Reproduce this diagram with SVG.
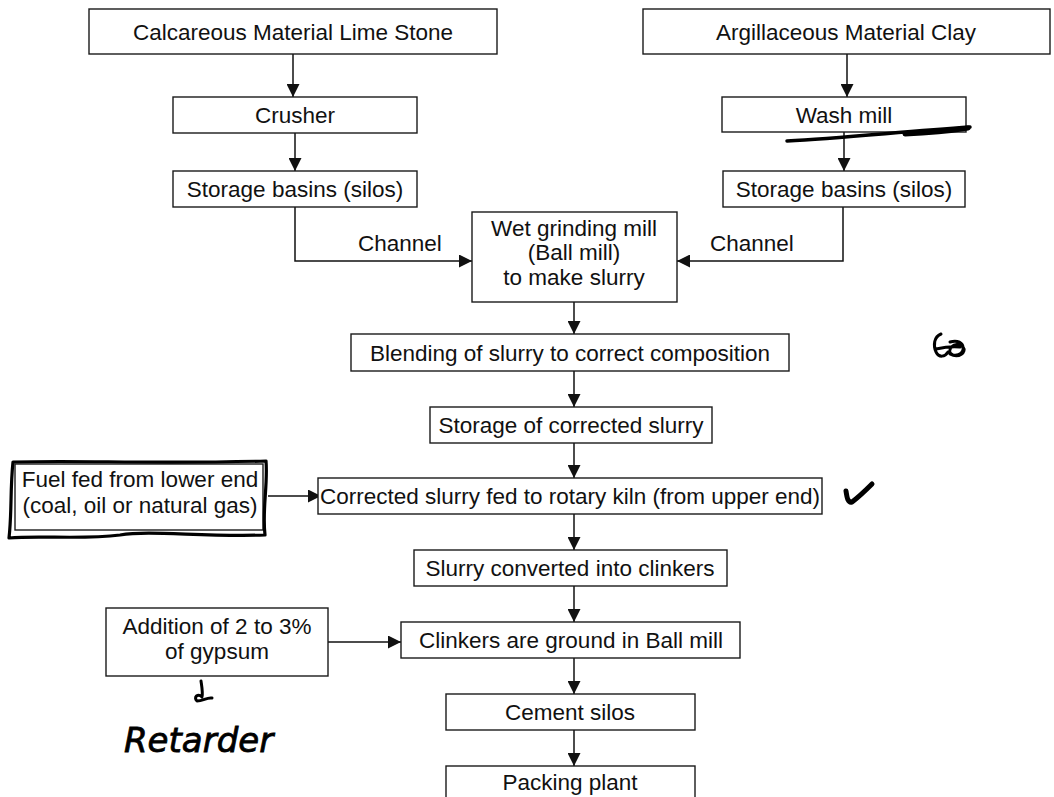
<svg xmlns="http://www.w3.org/2000/svg" width="1054" height="797" viewBox="0 0 1054 797">
<style>
.box{fill:#fff;stroke:#1a1a1a;stroke-width:1.4}
.t{font-family:"Liberation Sans",Arial,sans-serif;font-size:22.5px;fill:#111;text-anchor:middle}
.ts{font-family:"Liberation Sans",Arial,sans-serif;font-size:22.5px;fill:#111}
.c{fill:none;stroke:#111;stroke-width:1.5}
.ink{fill:none;stroke:#000;stroke-linecap:round;stroke-linejoin:round}
</style>
<defs>
<marker id="ah" markerUnits="userSpaceOnUse" markerWidth="13" markerHeight="13" viewBox="0 0 12 12" refX="12" refY="6" orient="auto">
<path d="M0,0 L12,6 L0,12 Z" fill="#111"/>
</marker>
</defs>
<rect width="1054" height="797" fill="#fff"/>

<g id="connectors">
<path class="c" d="M293,54 V97" marker-end="url(#ah)"/>
<path class="c" d="M295,133 V171" marker-end="url(#ah)"/>
<path class="c" d="M847,54 V97" marker-end="url(#ah)"/>
<path class="c" d="M844,132 V171" marker-end="url(#ah)"/>
<path class="c" d="M295,207 V261 H472" marker-end="url(#ah)"/>
<text class="ts" x="358" y="251">Channel</text>
<path class="c" d="M843,207 V261 H677" marker-end="url(#ah)"/>
<text class="ts" x="710" y="251">Channel</text>
<path class="c" d="M574,302 V334" marker-end="url(#ah)"/>
<path class="c" d="M574,371 V407" marker-end="url(#ah)"/>
<path class="c" d="M574,443 V478" marker-end="url(#ah)"/>
<path class="c" d="M268,496 H321" marker-end="url(#ah)"/>
<path class="c" d="M574,514 V550" marker-end="url(#ah)"/>
<path class="c" d="M574,586 V622" marker-end="url(#ah)"/>
<path class="c" d="M328,642 H401" marker-end="url(#ah)" stroke-width="1.2"/>
<path class="c" d="M574,658 V694" marker-end="url(#ah)"/>
<path class="c" d="M574,730 V766" marker-end="url(#ah)"/>
</g>

<g id="n-calcareous">
<rect class="box" x="89" y="9" width="408" height="45"/>
<text class="t" x="293" y="40">Calcareous Material Lime Stone</text>
</g>
<g id="n-argillaceous">
<rect class="box" x="643" y="9" width="407" height="45"/>
<text class="t" x="846" y="40">Argillaceous Material Clay</text>
</g>
<g id="n-crusher">
<rect class="box" x="173" y="97" width="244" height="36"/>
<text class="t" x="295" y="123">Crusher</text>
</g>
<g id="n-washmill">
<rect class="box" x="722" y="97" width="244" height="35"/>
<text class="t" x="844" y="123">Wash mill</text>
</g>
<g id="n-storage-left">
<rect class="box" x="173" y="171" width="244" height="36"/>
<text class="t" x="295" y="197">Storage basins (silos)</text>
</g>
<g id="n-storage-right">
<rect class="box" x="723" y="171" width="242" height="36"/>
<text class="t" x="844" y="197">Storage basins (silos)</text>
</g>
<g id="n-wetgrinding">
<rect class="box" x="472" y="212" width="205" height="90"/>
<text class="t" x="574" y="236">Wet grinding mill</text>
<text class="t" x="574" y="260">(Ball mill)</text>
<text class="t" x="574" y="285">to make slurry</text>
</g>
<g id="n-blending">
<rect class="box" x="351" y="334" width="438" height="37"/>
<text class="t" x="570" y="361">Blending of slurry to correct composition</text>
</g>
<g id="n-storage-corrected">
<rect class="box" x="430" y="407" width="282" height="36"/>
<text class="t" x="571" y="433">Storage of corrected slurry</text>
</g>
<g id="n-fuel">
<rect class="box" x="15" y="464" width="248" height="66" stroke-width="1"/>
<path class="ink" stroke-width="3.2" d="M13,462 C80,460 150,464 266,461 C268,485 262,510 265,535 C200,537 150,530 120,535 C80,540 40,535 9,538 C12,512 10,490 13,462 Z"/>
<text class="t" x="140" y="487">Fuel fed from lower end</text>
<text class="t" x="140" y="513">(coal, oil or natural gas)</text>
</g>
<g id="n-kiln">
<rect class="box" x="318" y="478" width="504" height="36"/>
<text class="t" x="570" y="504">Corrected slurry fed to rotary kiln (from upper end)</text>
</g>
<g id="n-clinkers">
<rect class="box" x="414" y="550" width="313" height="36"/>
<text class="t" x="570" y="576">Slurry converted into clinkers</text>
</g>
<g id="n-gypsum">
<rect class="box" x="106" y="608" width="222" height="68"/>
<text class="t" x="217" y="634">Addition of 2 to 3%</text>
<text class="t" x="217" y="659">of gypsum</text>
</g>
<g id="n-ballmill">
<rect class="box" x="401" y="622" width="339" height="36"/>
<text class="t" x="571" y="648">Clinkers are ground in Ball mill</text>
</g>
<g id="n-cementsilos">
<rect class="box" x="446" y="694" width="249" height="36"/>
<text class="t" x="570" y="720">Cement silos</text>
</g>
<g id="n-packing">
<rect class="box" x="446" y="766" width="249" height="45"/>
<text class="t" x="570" y="790">Packing plant</text>
</g>

<g id="annotations">
<path class="ink" stroke-width="3.5" d="M787,141 C840,138 900,132 970,127"/>
<path class="ink" stroke-width="5" d="M905,134 C930,133 950,131 968,128"/>
<path class="ink" stroke-width="5" d="M846,491 C847,498 848,503 852,502 C860,496 866,490 872,484"/>
<path class="ink" stroke-width="3" d="M941,334 C934,337 933,345 936,352 M936,349 C945,347 952,346 960,347 M950,342 C966,337 968,357 953,355 C944,352 955,339 963,347 C967,352 959,359 950,354 M936,352 C939,358 945,357 948,352"/>
<path class="ink" stroke-width="3" d="M201,681 C202,688 203,693 202,697 C198,693 193,697 197,701 C203,701 207,697 212,698"/>
<text x="124" y="752" font-family="'DejaVu Sans',sans-serif" font-style="italic" font-size="34" fill="#000" stroke="#000" stroke-width="0.8">Retarder</text>
</g>
</svg>
